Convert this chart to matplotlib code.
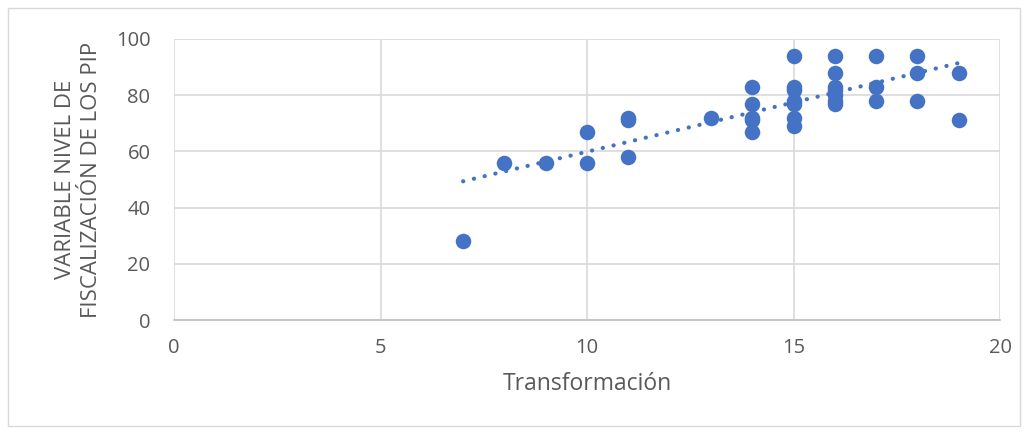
import numpy as np
from matplotlib import pyplot as plt
from matplotlib.patches import Rectangle

# data
x = [7, 8, 9, 10, 10, 11, 11, 11, 13,
     14, 14, 14, 14, 14,
     15, 15, 15, 15, 15, 15, 15,
     16, 16, 16, 16, 16, 16, 16,
     17, 17, 17, 18, 18, 18, 19, 19]
y = [28, 56, 56, 67, 56, 72, 71, 58, 72,
     83, 77, 72, 71, 67,
     94, 83, 82, 78, 77, 72, 69,
     94, 88, 83, 82, 80, 78, 77,
     94, 83, 78, 94, 88, 78, 88, 71]
x_ticks = [0, 5, 10, 15, 20]
y_ticks = [0, 20, 40, 60, 80, 100]

plt.rcParams['font.family'] = ['Open Sans', 'DejaVu Sans']
txt = '#595959'
blue = '#4472C4'

fig = plt.figure(figsize=(10.29, 4.32), dpi=100)
ax = fig.add_axes([174/1029, 1-320/432, (1000-174)/1029, (320-39)/432])

# outer chart border
fig.patches.append(Rectangle((8/1029, 6/432), 1012/1029, 418/432, transform=fig.transFigure,
                             fill=False, edgecolor='#D9D9D9', linewidth=1))

ax.scatter(x, y, s=125, color=blue, zorder=3, linewidths=0)

# linear trendline
k, b = np.polyfit(x, y, 1)
xs = np.array([min(x), max(x)])
ax.plot(xs, k*xs + b, color=blue, linestyle=(0, (0.05, 2.6)), linewidth=3,
        dash_capstyle='round', zorder=2)

ax.set_xlim(0, 20)
ax.set_ylim(0, 100)
ax.set_xticks(x_ticks)
ax.set_yticks(y_ticks)
ax.grid(True, color='#D9D9D9', linewidth=1.2)
ax.set_axisbelow(True)
for s in ['top', 'right', 'left']:
    ax.spines[s].set_visible(False)
ax.spines['bottom'].set_color('#BFBFBF')
ax.spines['bottom'].set_linewidth(1.2)
ax.tick_params(length=0, labelsize=14.5, colors=txt)
ax.tick_params(axis='x', pad=13)
ax.tick_params(axis='y', pad=17)

ax.set_xlabel('Transformación', fontsize=16.5, color=txt, labelpad=10)
ax.set_ylabel('VARIABLE NIVEL DE\nFISCALIZACIÓN DE LOS PIP', fontsize=16, color=txt,
              labelpad=10, linespacing=1.3)

plt.savefig('out.png', dpi=100)
